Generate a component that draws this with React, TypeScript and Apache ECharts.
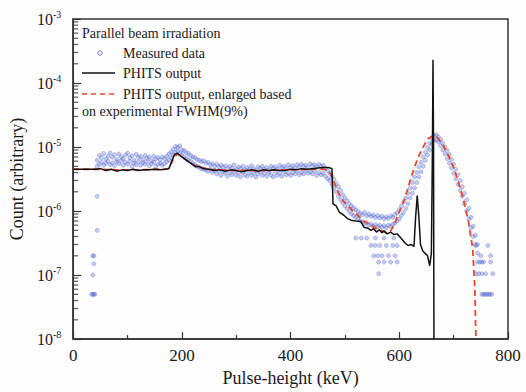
import React, { useEffect, useRef } from "react";
import * as echarts from "echarts";

const FONT = "Liberation Serif";

// Axis ticks
const xMin = 0;
const xMax = 800;
const xInterval = 200;
const yMin = 1e-8;
const yMax = 1e-3;
const yMinorTicks = [
  2e-8, 3e-8, 4e-8, 5e-8, 6e-8, 7e-8, 8e-8, 9e-8,
  2e-7, 3e-7, 4e-7, 5e-7, 6e-7, 7e-7, 8e-7, 9e-7,
  2e-6, 3e-6, 4e-6, 5e-6, 6e-6, 7e-6, 8e-6, 9e-6,
  2e-5, 3e-5, 4e-5, 5e-5, 6e-5, 7e-5, 8e-5, 9e-5,
  2e-4, 3e-4, 4e-4, 5e-4, 6e-4, 7e-4, 8e-4, 9e-4,
];

// PHITS output (black)
const phits: [number, number][] = [
  [0, 4.5e-6], [20, 4.5e-6], [40, 4.5e-6], [50, 4.6e-6], [60, 4.3e-6], [70, 4.5e-6],
  [80, 4.2e-6], [90, 4.4e-6], [100, 4.3e-6], [110, 4.5e-6], [120, 4.3e-6], [130, 4.4e-6],
  [140, 4.4e-6], [150, 4.5e-6], [160, 4.4e-6], [170, 4.5e-6], [176, 4.6e-6], [186, 7.6e-6],
  [192, 8.0e-6], [200, 7.0e-6], [210, 6.1e-6], [220, 5.3e-6], [225, 4.9e-6], [230, 5.0e-6],
  [240, 4.6e-6], [250, 4.5e-6], [260, 4.3e-6], [270, 4.4e-6], [280, 4.2e-6], [290, 4.4e-6],
  [300, 4.3e-6], [310, 4.1e-6], [320, 4.3e-6], [330, 4.4e-6], [340, 4.2e-6], [350, 4.4e-6],
  [360, 4.3e-6], [370, 4.4e-6], [380, 4.3e-6], [390, 4.3e-6], [400, 4.5e-6], [410, 4.4e-6],
  [420, 4.6e-6], [430, 4.5e-6], [440, 4.6e-6], [450, 4.7e-6], [460, 4.8e-6], [470, 4.8e-6],
  [476, 4.6e-6], [478, 1.3e-6], [484, 1.2e-6], [490, 9.5e-7], [498, 8.6e-7], [505, 7.6e-7],
  [511, 7.2e-7], [520, 7.0e-7], [529, 6.9e-7], [535, 5.6e-7], [542, 5.4e-7], [548, 5.0e-7],
  [553, 5.3e-7], [558, 4.7e-7], [563, 5.1e-7], [568, 4.6e-7], [572, 4.9e-7], [578, 4.4e-7],
  [584, 4.7e-7], [590, 4.3e-7], [596, 4.4e-7], [603, 3.8e-7], [610, 3.2e-7], [616, 2.9e-7],
  [622, 3.0e-7], [627, 2.8e-7], [630, 8.0e-7], [633, 1.75e-6], [636, 8.0e-7], [639, 3.0e-7],
  [643, 2.4e-7], [647, 2.2e-7], [652, 2.0e-7], [656, 1.4e-7], [659, 2.2e-7], [661, 1.0e-5],
  [662, 2.3e-4], [663, 1.0e-5], [664, 1e-9],
];

// PHITS output, enlarged based on experimental FWHM (red dashed)
const phitsBroad: [number, number][] = [
  [0, 4.5e-6], [40, 4.5e-6], [80, 4.4e-6], [120, 4.4e-6], [160, 4.5e-6], [176, 4.6e-6],
  [186, 7.0e-6], [192, 7.8e-6], [200, 7.0e-6], [215, 5.6e-6], [230, 4.9e-6], [250, 4.5e-6],
  [300, 4.3e-6], [350, 4.3e-6], [400, 4.4e-6], [440, 4.5e-6], [462, 4.5e-6], [470, 4.2e-6],
  [476, 3.5e-6], [487, 2.0e-6], [498, 1.4e-6], [515, 1.0e-6], [535, 7.0e-7], [555, 5.5e-7],
  [575, 4.6e-7], [585, 5.0e-7], [592, 6.5e-7], [597, 8.6e-7], [605, 1.2e-6], [612, 1.75e-6],
  [620, 3.0e-6], [627, 4.6e-6], [635, 7.0e-6], [645, 1.04e-5], [653, 1.35e-5], [662, 1.5e-5],
  [670, 1.4e-5], [680, 1.1e-5], [690, 7.5e-6], [700, 4.8e-6], [710, 2.6e-6], [719, 1.4e-6],
  [727, 7.0e-7], [735, 2.6e-7], [739, 6.0e-8], [741, 1.0e-8], [742, 5e-9],
];

// Measured data (blue circles)
const measured: [number, number][] = [
  [34, 5e-8], [36, 5e-8], [38, 5e-8], [40, 5e-8], [36, 1.0e-7], [38, 1.5e-7], [36, 2.0e-7], [38, 2.0e-7],
  [44, 1.7e-6], [44, 5e-7],
  [44, 6.2e-6], [44, 5.0e-6], [48, 7.4e-6], [48, 5.4e-6], [52, 6.8e-6], [52, 5.8e-6], [56, 7.9e-6], [56, 5.2e-6],
  [60, 6.5e-6], [60, 5.6e-6], [64, 7.2e-6], [64, 6.0e-6], [68, 8.1e-6], [68, 5.3e-6], [72, 6.9e-6], [72, 5.7e-6],
  [76, 7.6e-6], [76, 5.1e-6], [80, 6.4e-6], [80, 5.9e-6], [84, 7.8e-6], [84, 5.5e-6], [88, 7.0e-6], [88, 6.1e-6],
  [92, 6.6e-6], [92, 5.2e-6], [96, 7.5e-6], [96, 5.8e-6], [100, 8.0e-6], [100, 5.4e-6], [104, 6.8e-6], [104, 6.0e-6],
  [108, 7.3e-6], [108, 5.0e-6], [112, 6.2e-6], [112, 5.6e-6], [116, 7.7e-6], [116, 5.3e-6], [120, 6.9e-6], [120, 5.9e-6],
  [124, 7.1e-6], [124, 5.2e-6], [128, 6.3e-6], [128, 5.7e-6], [132, 7.4e-6], [132, 5.4e-6], [136, 6.7e-6], [136, 5.9e-6],
  [140, 7.0e-6], [140, 5.1e-6], [144, 6.1e-6], [144, 5.5e-6], [148, 7.2e-6], [148, 5.8e-6], [152, 6.5e-6], [152, 5.0e-6],
  [156, 6.9e-6], [156, 5.4e-6], [160, 6.3e-6], [160, 5.6e-6], [164, 7.0e-6], [164, 5.2e-6], [168, 6.6e-6], [168, 5.5e-6],
  [172, 7.2e-6], [172, 5.9e-6], [176, 7.8e-6], [176, 6.2e-6],
  [180, 8.4e-6], [180, 6.8e-6], [184, 9.2e-6], [184, 7.5e-6], [188, 1.02e-5], [188, 8.2e-6], [192, 9.8e-6], [192, 8.6e-6],
  [196, 1.04e-5], [196, 8.0e-6], [200, 9.0e-6], [200, 7.6e-6], [204, 8.8e-6], [204, 7.0e-6], [208, 8.2e-6], [208, 6.6e-6],
  [212, 7.9e-6], [212, 6.3e-6], [216, 7.4e-6], [216, 6.0e-6], [220, 7.0e-6], [220, 5.6e-6], [224, 6.8e-6], [224, 5.3e-6],
  [228, 6.4e-6], [228, 5.0e-6], [232, 6.2e-6], [232, 4.8e-6], [236, 5.9e-6], [236, 4.6e-6], [240, 6.1e-6], [240, 4.5e-6],
  [244, 5.6e-6], [244, 4.4e-6], [248, 5.8e-6], [248, 4.2e-6], [252, 5.3e-6], [252, 4.5e-6], [256, 5.5e-6], [256, 4.0e-6],
  [260, 5.0e-6], [260, 4.3e-6], [264, 5.4e-6], [264, 3.8e-6], [268, 4.9e-6], [268, 4.2e-6], [272, 5.2e-6], [272, 3.6e-6],
  [276, 4.8e-6], [276, 4.1e-6], [280, 5.1e-6], [280, 3.9e-6], [284, 4.6e-6], [284, 3.5e-6], [288, 5.0e-6], [288, 4.0e-6],
  [292, 4.7e-6], [292, 3.7e-6], [296, 5.3e-6], [296, 4.1e-6], [300, 4.5e-6], [300, 3.6e-6], [304, 4.9e-6], [304, 3.9e-6],
  [308, 4.6e-6], [308, 3.4e-6], [312, 5.0e-6], [312, 4.0e-6], [316, 4.4e-6], [316, 3.7e-6], [320, 4.8e-6], [320, 3.5e-6],
  [324, 4.5e-6], [324, 4.0e-6], [328, 5.1e-6], [328, 3.6e-6], [332, 4.6e-6], [332, 3.9e-6], [336, 4.3e-6], [336, 3.4e-6],
  [340, 4.9e-6], [340, 3.8e-6], [344, 4.6e-6], [344, 4.1e-6], [348, 5.0e-6], [348, 3.6e-6], [352, 4.5e-6], [352, 3.9e-6],
  [356, 4.8e-6], [356, 3.5e-6], [360, 4.4e-6], [360, 4.0e-6], [364, 5.0e-6], [364, 3.7e-6], [368, 4.7e-6], [368, 3.4e-6],
  [372, 4.9e-6], [372, 4.0e-6], [376, 4.5e-6], [376, 3.6e-6], [380, 5.2e-6], [380, 3.9e-6], [384, 4.8e-6], [384, 3.5e-6],
  [388, 5.0e-6], [388, 4.1e-6], [392, 4.6e-6], [392, 3.7e-6], [396, 5.3e-6], [396, 3.9e-6], [400, 4.8e-6], [400, 3.6e-6],
  [404, 5.1e-6], [404, 4.0e-6], [408, 4.7e-6], [408, 3.8e-6], [412, 5.3e-6], [412, 4.2e-6], [416, 4.9e-6], [416, 3.7e-6],
  [420, 5.4e-6], [420, 4.0e-6], [424, 5.0e-6], [424, 3.8e-6], [428, 5.2e-6], [428, 4.3e-6], [432, 4.8e-6], [432, 3.9e-6],
  [436, 5.5e-6], [436, 4.1e-6], [440, 5.1e-6], [440, 3.8e-6], [444, 5.3e-6], [444, 4.2e-6], [448, 4.9e-6], [448, 3.6e-6],
  [452, 5.4e-6], [452, 4.0e-6], [456, 5.0e-6], [456, 3.7e-6], [460, 5.2e-6], [460, 3.9e-6], [464, 4.6e-6], [464, 3.5e-6],
  [468, 4.3e-6], [468, 3.2e-6],
  [472, 3.9e-6], [472, 3.0e-6], [476, 3.5e-6], [476, 2.6e-6], [480, 3.1e-6], [480, 2.3e-6], [484, 2.7e-6], [484, 2.0e-6],
  [488, 2.4e-6], [488, 1.7e-6], [492, 2.1e-6], [492, 1.5e-6], [496, 1.8e-6], [496, 1.35e-6], [500, 1.6e-6], [500, 1.2e-6],
  [504, 1.45e-6], [504, 1.1e-6], [508, 1.3e-6], [508, 9.8e-7], [512, 1.2e-6], [512, 9.0e-7], [516, 1.12e-6], [516, 8.5e-7],
  [520, 1.05e-6], [520, 8.0e-7],
  [524, 9.8e-7], [524, 7.6e-7], [528, 9.2e-7], [528, 7.0e-7], [532, 8.8e-7], [532, 6.8e-7], [536, 9.5e-7], [536, 6.4e-7],
  [540, 8.4e-7], [540, 6.6e-7], [544, 9.0e-7], [544, 6.0e-7], [548, 8.2e-7], [548, 6.3e-7], [552, 8.7e-7], [552, 5.8e-7],
  [556, 7.9e-7], [556, 6.1e-7], [560, 8.5e-7], [560, 5.7e-7], [564, 7.8e-7], [564, 6.0e-7], [568, 8.3e-7], [568, 5.6e-7],
  [572, 7.6e-7], [572, 5.9e-7], [576, 8.1e-7], [576, 5.5e-7], [580, 7.7e-7], [580, 6.0e-7], [584, 8.4e-7], [584, 5.8e-7],
  [588, 8.0e-7], [588, 6.2e-7], [592, 8.8e-7], [592, 6.5e-7], [596, 9.4e-7], [596, 7.0e-7], [600, 1.05e-6], [600, 7.5e-7],
  [520, 3.8e-7], [530, 3.8e-7], [540, 3.8e-7], [556, 3.8e-7], [572, 3.8e-7], [590, 3.8e-7],
  [548, 2.9e-7], [556, 2.9e-7], [564, 2.9e-7], [576, 2.9e-7], [588, 2.9e-7], [596, 2.9e-7],
  [553, 2.0e-7], [560, 2.0e-7], [568, 2.0e-7], [580, 2.0e-7], [592, 2.0e-7],
  [562, 1.6e-7], [572, 1.6e-7], [584, 1.6e-7], [596, 1.6e-7], [562, 1.05e-7],
  [604, 1.2e-6], [604, 8.5e-7], [608, 1.4e-6], [608, 9.5e-7], [612, 1.6e-6], [612, 1.1e-6], [616, 1.9e-6], [616, 1.3e-6],
  [620, 2.3e-6], [620, 1.6e-6], [624, 2.8e-6], [624, 1.9e-6], [628, 3.4e-6], [628, 2.3e-6], [632, 4.0e-6], [632, 2.8e-6],
  [636, 4.9e-6], [636, 3.4e-6], [640, 5.8e-6], [640, 4.1e-6], [644, 7.0e-6], [644, 5.0e-6], [648, 8.3e-6], [648, 6.2e-6],
  [652, 9.8e-6], [652, 7.5e-6], [656, 1.15e-5], [656, 9.0e-6], [660, 1.35e-5], [660, 1.1e-5], [664, 1.5e-5], [664, 1.25e-5],
  [668, 1.55e-5], [668, 1.3e-5], [672, 1.45e-5], [672, 1.2e-5], [676, 1.3e-5], [676, 1.05e-5], [680, 1.15e-5], [680, 9.0e-6],
  [684, 1.0e-5], [684, 7.8e-6], [688, 8.8e-6], [688, 6.6e-6], [692, 7.6e-6], [692, 5.6e-6], [696, 6.4e-6], [696, 4.7e-6],
  [700, 5.4e-6], [700, 3.9e-6], [704, 4.5e-6], [704, 3.2e-6], [708, 3.7e-6], [708, 2.6e-6], [712, 3.0e-6], [712, 2.1e-6],
  [716, 2.4e-6], [716, 1.7e-6], [720, 1.9e-6], [720, 1.3e-6], [724, 1.5e-6], [724, 1.0e-6], [728, 1.1e-6], [728, 7.5e-7],
  [732, 8.0e-7], [732, 5.5e-7], [736, 5.8e-7], [736, 4.0e-7], [740, 4.2e-7], [740, 3.0e-7], [744, 3.0e-7], [744, 2.2e-7],
  [741, 2.9e-7], [763, 2.9e-7], [750, 2.0e-7], [768, 2.0e-7], [744, 1.6e-7], [748, 1.6e-7], [752, 1.6e-7], [755, 1.6e-7],
  [768, 1.6e-7], [741, 1.05e-7], [746, 1.05e-7], [752, 1.05e-7], [759, 1.05e-7], [772, 1.05e-7],
  [752, 5e-8], [755, 5e-8], [758, 5e-8], [761, 5e-8], [764, 5e-8], [767, 5e-8], [770, 5e-8],
];

const legendTexts = {
  title: "Parallel beam irradiation",
  measured: "Measured data",
  phits: "PHITS output",
  broad1: "PHITS output, enlarged based",
  broad2: "on experimental FWHM(9%)",
};

export default function App() {
  const ref = useRef<HTMLDivElement>(null);
  useEffect(() => {
    if (!ref.current) return;
    const chart = echarts.init(ref.current, undefined, { renderer: "svg" });
    const textStyle = { fontFamily: FONT, fontSize: 14, fill: "#1a1a1a" };
    chart.setOption({
      animation: false,
      backgroundColor: "#fdfdfd",
      textStyle: { fontFamily: FONT },
      grid: {
        left: 72,
        right: 18,
        top: 19,
        bottom: 50,
        show: true,
        borderColor: "#333",
        borderWidth: 1.5,
        backgroundColor: "transparent",
      },
      xAxis: {
        type: "value",
        min: xMin,
        max: xMax,
        interval: xInterval,
        name: "Pulse-height (keV)",
        nameLocation: "middle",
        nameGap: 28,
        nameTextStyle: { fontFamily: FONT, fontSize: 18, color: "#1a1a1a" },
        axisLine: { show: true, lineStyle: { color: "#333", width: 1.5 } },
        axisTick: { show: true, inside: true, length: 7, lineStyle: { color: "#333", width: 1.2 } },
        minorTick: { show: true, splitNumber: 2, length: 4, lineStyle: { color: "#333", width: 1.2 } },
        axisLabel: { fontFamily: FONT, fontSize: 17, color: "#1a1a1a", margin: 8 },
        splitLine: { show: false },
      },
      yAxis: {
        type: "log",
        logBase: 10,
        min: yMin,
        max: yMax,
        name: "Count (arbitrary)",
        nameLocation: "middle",
        nameGap: 44,
        nameTextStyle: { fontFamily: FONT, fontSize: 18, color: "#1a1a1a" },
        axisLine: { show: true, lineStyle: { color: "#333", width: 1.5 } },
        axisTick: { show: true, inside: true, length: 8, lineStyle: { color: "#333", width: 1.2 } },
        axisLabel: {
          margin: 12,
          fontFamily: FONT,
          formatter: (v: number) => `{b|10}{s|${Math.round(Math.log10(v))}}`,
          rich: {
            b: { fontFamily: FONT, fontSize: 16, color: "#1a1a1a" },
            s: { fontFamily: FONT, fontSize: 10, color: "#1a1a1a", padding: [0, 0, 10, 0] },
          },
        },
        splitLine: { show: false },
      },
      graphic: [
        { type: "text", left: 82, top: 26, style: { ...textStyle, text: legendTexts.title } },
        { type: "circle", shape: { cx: 100, cy: 53, r: 2.2 }, style: { fill: "none", stroke: "rgba(80,90,200,0.8)", lineWidth: 1 } },
        { type: "text", left: 123, top: 46, style: { ...textStyle, text: legendTexts.measured } },
        { type: "line", shape: { x1: 82, y1: 73, x2: 115, y2: 73 }, style: { stroke: "#111", lineWidth: 1.6 } },
        { type: "text", left: 123, top: 66, style: { ...textStyle, text: legendTexts.phits } },
        { type: "line", shape: { x1: 82, y1: 94, x2: 116, y2: 94 }, style: { stroke: "#e8472c", lineWidth: 1.6, lineDash: [5, 4] } },
        { type: "text", left: 123, top: 87, style: { ...textStyle, text: legendTexts.broad1 } },
        { type: "text", left: 82, top: 104, style: { ...textStyle, text: legendTexts.broad2 } },
      ],
      series: [
        {
          name: "Measured data",
          type: "scatter",
          data: measured,
          symbol: "circle",
          symbolSize: 4,
          itemStyle: { color: "rgba(75,95,205,0.38)", borderColor: "rgba(75,95,205,0.5)", borderWidth: 0.8 },
          silent: true,
          z: 2,
        },
        {
          name: "PHITS output, enlarged",
          type: "line",
          data: phitsBroad,
          showSymbol: false,
          symbol: "none",
          lineStyle: { color: "#e8472c", width: 1.8, type: [6, 4] },
          silent: true,
          z: 3,
        },
        {
          name: "PHITS output",
          type: "line",
          data: phits,
          showSymbol: false,
          symbol: "none",
          lineStyle: { color: "#111", width: 1.5 },
          silent: true,
          z: 4,
        },
        {
          name: "minor ticks",
          type: "scatter",
          data: yMinorTicks.map((v) => [xMin, v]),
          symbol: "rect",
          symbolSize: [5, 1.2],
          symbolOffset: [2.5, 0],
          itemStyle: { color: "#333" },
          silent: true,
          z: 5,
        },
      ],
    });
    return () => chart.dispose();
  }, []);
  return (
    <div
      ref={ref}
      style={{ position: "fixed", left: 0, top: 0, width: 526, height: 392 }}
    />
  );
}
